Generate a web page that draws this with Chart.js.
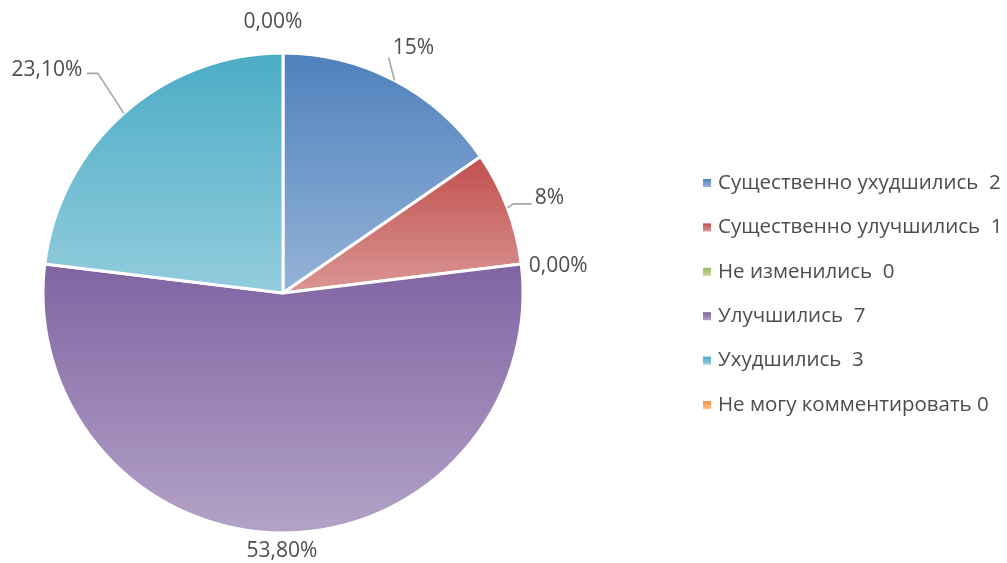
<!DOCTYPE html>
<html>
<head>
<meta charset="utf-8">
<script src="https://cdn.jsdelivr.net/npm/chart.js@4.4.1/dist/chart.umd.min.js"></script>
<style>
html,body{margin:0;padding:0;background:#fff;}
#wrap{width:1007px;height:563px;}
</style>
</head>
<body>
<div id="wrap"><canvas id="c" width="1007" height="563"></canvas></div>
<script>
const categories = ['Существенно ухудшились  2','Существенно улучшились  1','Не изменились  0','Улучшились  7','Ухудшились  3','Не могу комментировать 0'];
const values = [2, 1, 0, 7, 3, 0];
const percentLabels = ['15%', '8%', '0,00%', '53,80%', '23,10%', '0,00%'];

const topColors = ['#4F81BD', '#C0504D', '#9BBB59', '#8064A2', '#4BACC6', '#F79646'];
const bottomColors = ['#95B3D7', '#DA9694', '#C3D69B', '#B3A2C7', '#93CDDD', '#FAC090'];

// label placement relative to the slice's outer edge point (dx, dy of text centre), and leader path offsets
const labelPlacement = [
  {dx: 19, dy: -32, leader: [[-6, -23]]},
  {dx: 42, dy: -10, leader: [[6, -4], [24, -4]]},
  {dx: 37, dy: 2, leader: null},
  {dx: -1, dy: 18, leader: null},
  {dx: -77, dy: -43, leader: [[-26, -40], [-37, -40]]},
  {dx: -10, dy: -31, leader: null}
];

const FONT = '"Open Sans", "Liberation Sans", sans-serif';
const TEXT_COLOR = '#4D4D4D';

function arcBBoxY(el) {
  const {x, y, startAngle, endAngle, outerRadius} = el.getProps(['x','y','startAngle','endAngle','outerRadius'], true);
  let ys = [y, y + Math.sin(startAngle) * outerRadius, y + Math.sin(endAngle) * outerRadius];
  for (let k = -4; k <= 8; k++) {
    const a = k * Math.PI / 2;
    if (a > startAngle && a < endAngle) ys.push(y + Math.sin(a) * outerRadius);
  }
  return [Math.min(...ys), Math.max(...ys)];
}

const gradientPlugin = {
  id: 'sliceGradient',
  beforeDatasetsDraw(chart) {
    const ctx = chart.ctx;
    const meta = chart.getDatasetMeta(0);
    meta.data.forEach((el, i) => {
      const [y0, y1] = arcBBoxY(el);
      const g = ctx.createLinearGradient(0, y0, 0, Math.max(y1, y0 + 1));
      g.addColorStop(0, topColors[i]);
      g.addColorStop(1, bottomColors[i]);
      el.options = Object.assign({}, el.options, {backgroundColor: g});
    });
  }
};

const labelPlugin = {
  id: 'outerLabels',
  afterDatasetsDraw(chart) {
    const ctx = chart.ctx;
    const meta = chart.getDatasetMeta(0);
    ctx.save();
    meta.data.forEach((el, i) => {
      const {x, y, startAngle, endAngle, outerRadius} = el.getProps(['x','y','startAngle','endAngle','outerRadius'], true);
      const mid = (startAngle + endAngle) / 2;
      const ex = x + Math.cos(mid) * outerRadius;
      const ey = y + Math.sin(mid) * outerRadius;
      const p = labelPlacement[i];
      if (p.leader) {
        ctx.beginPath();
        ctx.strokeStyle = '#A6A6A6';
        ctx.lineWidth = 1.6;
        ctx.moveTo(ex, ey);
        p.leader.forEach(([lx, ly]) => ctx.lineTo(ex + lx, ey + ly));
        ctx.stroke();
      }
      ctx.fillStyle = TEXT_COLOR;
      ctx.font = '21px ' + FONT;
      ctx.textAlign = 'center';
      ctx.textBaseline = 'middle';
      ctx.fillText(percentLabels[i], ex + p.dx, ey + p.dy);
    });
    ctx.restore();
  }
};

const legendPlugin = {
  id: 'sideLegend',
  afterDraw(chart) {
    const ctx = chart.ctx;
    ctx.save();
    const x0 = 703, yStart = 183, step = 44.4, box = 8;
    chart.data.labels.forEach((lab, i) => {
      const yc = yStart + i * step;
      const g = ctx.createLinearGradient(0, yc - box / 2, 0, yc + box / 2);
      g.addColorStop(0, topColors[i]);
      g.addColorStop(1, bottomColors[i]);
      ctx.fillStyle = g;
      ctx.fillRect(x0, yc - box / 2, box, box);
      ctx.fillStyle = TEXT_COLOR;
      ctx.font = '20.5px ' + FONT;
      ctx.textAlign = 'left';
      ctx.textBaseline = 'middle';
      ctx.fillText(lab, x0 + 15, yc);
    });
    ctx.restore();
  }
};

new Chart(document.getElementById('c'), {
  type: 'pie',
  data: {
    labels: categories,
    datasets: [{
      data: values,
      backgroundColor: topColors,
      borderColor: '#FFFFFF',
      borderWidth: 3
    }]
  },
  options: {
    responsive: false,
    animation: false,
    layout: {padding: {left: 41.5, top: 51.5, right: 482.5, bottom: 28.5}},
    plugins: {legend: {display: false}, tooltip: {enabled: false}}
  },
  plugins: [gradientPlugin, labelPlugin, legendPlugin]
});
</script>
</body>
</html>
